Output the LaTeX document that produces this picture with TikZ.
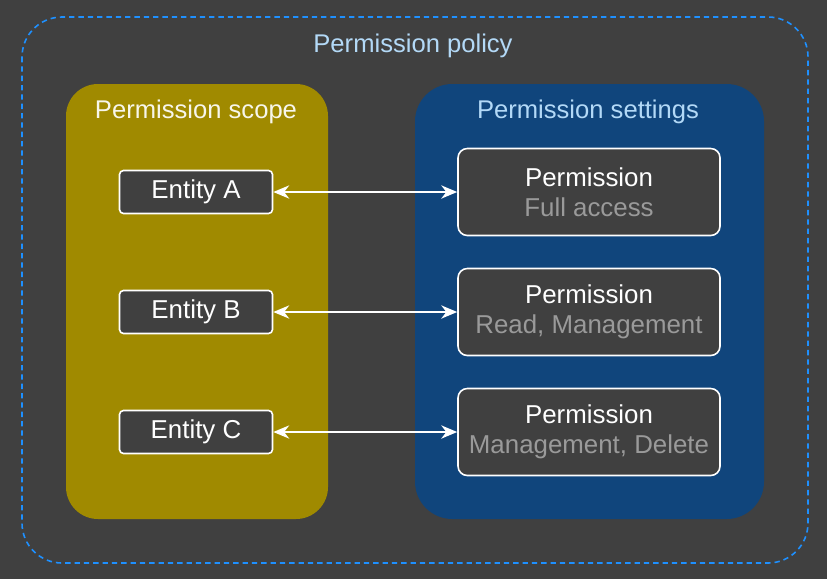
\documentclass[tikz,border=0pt]{standalone}
\usepackage{fontspec}
\setmainfont{Liberation Sans}
\usetikzlibrary{positioning,arrows.meta}
\definecolor{bgdark}{HTML}{404040}
\definecolor{policyblue}{HTML}{1E90FF}
\definecolor{titleblue}{HTML}{B3D9F7}
\definecolor{scopegold}{HTML}{A08A00}
\definecolor{setnavy}{HTML}{10457C}
\definecolor{subgray}{HTML}{9A9A9A}
\tikzset{
  entity/.style={draw=white, fill=bgdark, line width=1.2pt, rounded corners=3pt,
    minimum width=114.75pt, minimum height=32.25pt, inner sep=0pt, text=white,
    font=\fontsize{19.4}{21}\selectfont},
  perm/.style={draw=white, fill=bgdark, line width=1.2pt, rounded corners=7pt,
    minimum width=196.5pt, minimum height=65.25pt, inner sep=0pt, align=center, text=white,
    font=\fontsize{19.4}{22.5}\selectfont},
  link/.style={white, line width=1.2pt, {Stealth[length=12pt,width=10pt]}-{Stealth[length=12pt,width=10pt]}},
  title/.style={font=\fontsize{19.2}{21}\selectfont}
}
\begin{document}
\begin{tikzpicture}[x=0.75pt,y=-0.75pt]
  \fill[bgdark] (0,0) rectangle (827,579);
  \useasboundingbox (0,0) rectangle (827,579);
  % policy frame
  \draw[policyblue, dash pattern=on 4pt off 3pt, line width=1.2pt, rounded corners=30pt] (22,17) rectangle (808,563);
  \node[title, text=titleblue] (policy) at (413,46) {Permission policy};
  % scope and settings
  \fill[scopegold, rounded corners=24pt] (66,84) rectangle (328,519);
  \node[title, text=white!92!scopegold] (scope) at (196,112) {Permission scope};
  \fill[setnavy, rounded corners=28pt] (415,84) rectangle (764,519);
  \node[title, text=titleblue] (settings) at (588,112) {Permission settings};
  % entities
  \node[entity] (entA) at (196,192) {Entity A};
  \node[entity] (entB) at (196,312) {Entity B};
  \node[entity] (entC) at (196,432) {Entity C};
  % permissions
  \node[perm] (permA) at (589,192) {Permission\\\textcolor{subgray}{Full access}};
  \node[perm] (permB) at (589,312) {Permission\\\textcolor{subgray}{Read, Management}};
  \node[perm] (permC) at (589,432) {Permission\\\textcolor{subgray}{Management, Delete}};
  % links
  \draw[link] (entA) -- (permA);
  \draw[link] (entB) -- (permB);
  \draw[link] (entC) -- (permC);
\end{tikzpicture}
\end{document}
